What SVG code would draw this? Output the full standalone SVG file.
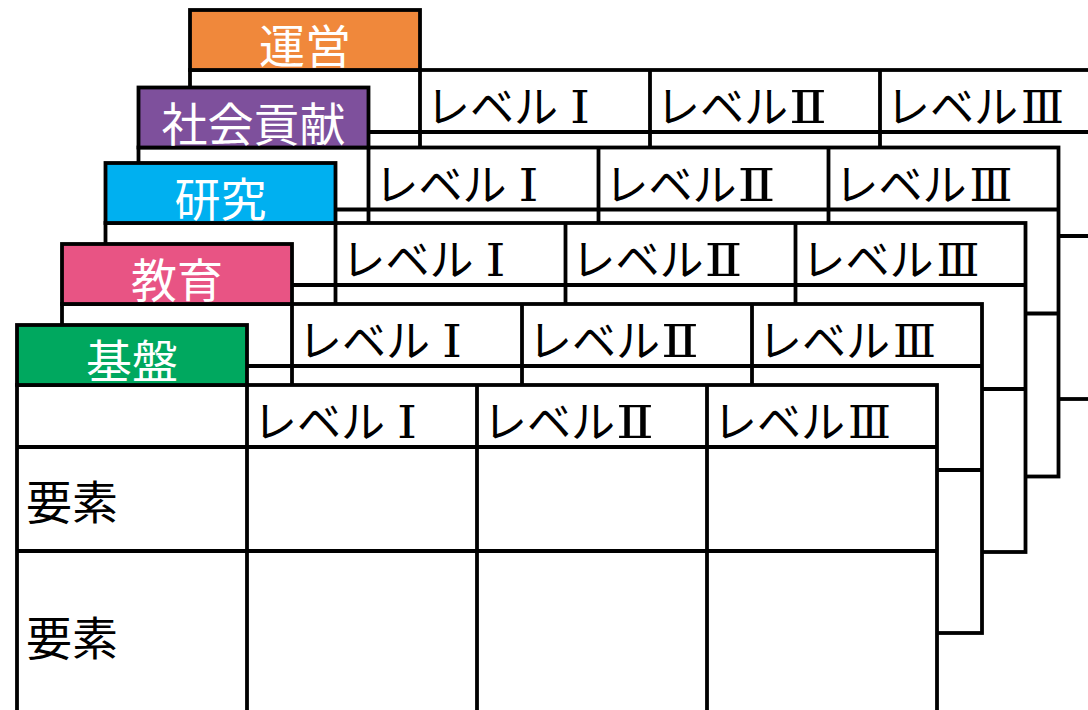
<svg xmlns="http://www.w3.org/2000/svg" width="1088" height="710" viewBox="0 0 1088 710">
<style>
.grid{fill:#fff;stroke:#000;stroke-width:3.8}
.ln{stroke:#000;stroke-width:3.8;fill:none}
.tab{stroke:#000;stroke-width:3.8}
.tl{font-family:"Noto Sans CJK JP","Noto Sans",sans-serif;font-size:46px;fill:#fff;text-anchor:middle}
.hd{font-family:"Noto Sans CJK JP","Noto Sans",sans-serif;font-size:44px;fill:#000}
.el{font-family:"Noto Sans CJK JP","Noto Sans",sans-serif;font-size:46px;fill:#000}
.rn{font-family:"DejaVu Serif","Liberation Serif","Noto Sans CJK JP",serif}
</style>
<defs>
<g id="frame">
<rect class="grid" x="0" y="60" width="920" height="329"/>
<path class="ln" d="M0 122H920M0 226H920M230 60V389M460 60V389M690 60V389"/>
</g>
</defs>
<rect width="1088" height="710" fill="#fff"/>
<g id="unei" transform="translate(190,10)">
<use href="#frame"/>
<text class="hd" x="236" y="113">レベル<tspan class="rn" dx="12" textLength="20" lengthAdjust="spacingAndGlyphs">Ⅰ</tspan></text>
<text class="hd" x="466" y="113">レベル<tspan class="rn" dx="1" textLength="38" lengthAdjust="spacingAndGlyphs">Ⅱ</tspan></text>
<text class="hd" x="696" y="113">レベル<tspan class="rn" dx="3" textLength="43" lengthAdjust="spacingAndGlyphs">Ⅲ</tspan></text>
<rect class="tab" x="0" y="0" width="230" height="60" fill="#F0883B"/>
<text class="tl" x="115" y="53">運営</text>
</g>
<g id="shakaikouken" transform="translate(138.5,87.5)">
<use href="#frame"/>
<text class="hd" x="236" y="113">レベル<tspan class="rn" dx="12" textLength="20" lengthAdjust="spacingAndGlyphs">Ⅰ</tspan></text>
<text class="hd" x="466" y="113">レベル<tspan class="rn" dx="1" textLength="38" lengthAdjust="spacingAndGlyphs">Ⅱ</tspan></text>
<text class="hd" x="696" y="113">レベル<tspan class="rn" dx="3" textLength="43" lengthAdjust="spacingAndGlyphs">Ⅲ</tspan></text>
<rect class="tab" x="0" y="0" width="230" height="60" fill="#7E509C"/>
<text class="tl" x="115" y="53">社会貢献</text>
</g>
<g id="kenkyu" transform="translate(105.5,163)">
<use href="#frame"/>
<text class="hd" x="236" y="113">レベル<tspan class="rn" dx="12" textLength="20" lengthAdjust="spacingAndGlyphs">Ⅰ</tspan></text>
<text class="hd" x="466" y="113">レベル<tspan class="rn" dx="1" textLength="38" lengthAdjust="spacingAndGlyphs">Ⅱ</tspan></text>
<text class="hd" x="696" y="113">レベル<tspan class="rn" dx="3" textLength="43" lengthAdjust="spacingAndGlyphs">Ⅲ</tspan></text>
<rect class="tab" x="0" y="0" width="230" height="60" fill="#00B0F0"/>
<text class="tl" x="115" y="53">研究</text>
</g>
<g id="kyouiku" transform="translate(62,244)">
<use href="#frame"/>
<text class="hd" x="236" y="113">レベル<tspan class="rn" dx="12" textLength="20" lengthAdjust="spacingAndGlyphs">Ⅰ</tspan></text>
<text class="hd" x="466" y="113">レベル<tspan class="rn" dx="1" textLength="38" lengthAdjust="spacingAndGlyphs">Ⅱ</tspan></text>
<text class="hd" x="696" y="113">レベル<tspan class="rn" dx="3" textLength="43" lengthAdjust="spacingAndGlyphs">Ⅲ</tspan></text>
<rect class="tab" x="0" y="0" width="230" height="60" fill="#E85484"/>
<text class="tl" x="115" y="53">教育</text>
</g>
<g id="kiban" transform="translate(17,325)">
<use href="#frame"/>
<text class="hd" x="236" y="113">レベル<tspan class="rn" dx="12" textLength="20" lengthAdjust="spacingAndGlyphs">Ⅰ</tspan></text>
<text class="hd" x="466" y="113">レベル<tspan class="rn" dx="1" textLength="38" lengthAdjust="spacingAndGlyphs">Ⅱ</tspan></text>
<text class="hd" x="696" y="113">レベル<tspan class="rn" dx="3" textLength="43" lengthAdjust="spacingAndGlyphs">Ⅲ</tspan></text>
<text class="el" x="9" y="194">要素</text>
<text class="el" x="9" y="330">要素</text>
<rect class="tab" x="0" y="0" width="230" height="60" fill="#00A85F"/>
<text class="tl" x="115" y="53">基盤</text>
</g>
</svg>
